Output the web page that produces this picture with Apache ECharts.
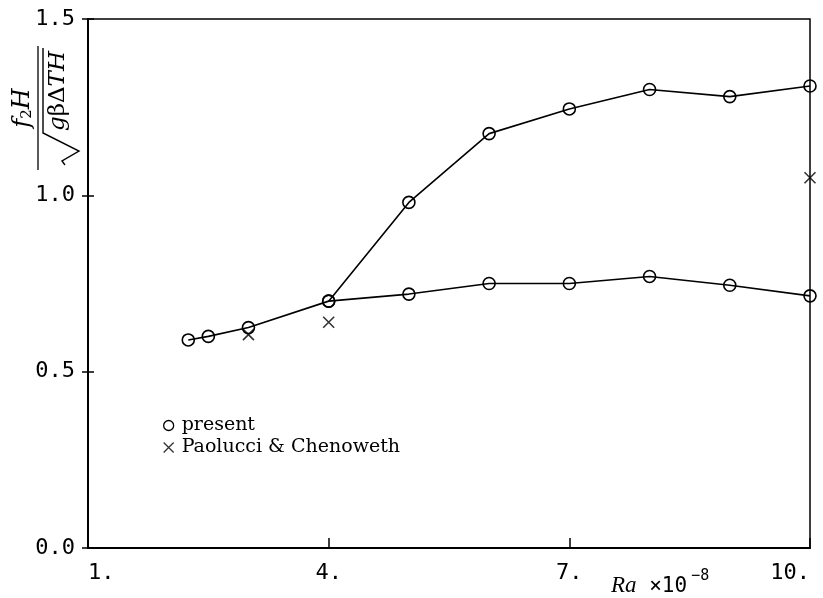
<!DOCTYPE html>
<html>
<head>
<meta charset="utf-8">
<script src="https://cdn.jsdelivr.net/npm/echarts@6/dist/echarts.min.js"></script>
<style>
  html, body { margin: 0; padding: 0; background: #fff; }
  #chart { width: 823px; height: 598px; }
</style>
</head>
<body>
<div id="chart"></div>
<script>
// Rayleigh number (x 10^-8) and dimensionless frequency f2*H/sqrt(g*beta*dT*H)
const presentLowerRa = [2.25, 2.5, 3, 4, 5, 6, 7, 8, 9, 10];
const presentLowerF  = [0.59, 0.60, 0.625, 0.70, 0.72, 0.75, 0.75, 0.77, 0.745, 0.715];
const presentUpperRa = [4, 5, 6, 7, 8, 9, 10];
const presentUpperF  = [0.70, 0.98, 1.175, 1.245, 1.30, 1.28, 1.31];
const paolucciRa = [3, 4, 10];
const paolucciF  = [0.605, 0.64, 1.05];
const xTicks = [1, 4, 7, 10];
const yTicks = [0.0, 0.5, 1.0, 1.5];

const pairs = (xs, ys) => xs.map((x, i) => [x, ys[i]]);
const crossPath = 'path://M0,0L10,10M10,0L0,10';
const tickFont = 'DejaVu Sans Mono';
const serif = 'DejaVu Serif';
const timesLike = 'Liberation Serif';

const chart = echarts.init(document.getElementById('chart'), null, { renderer: 'canvas' });

const xBase = { type: 'value', min: xTicks[0], max: xTicks[xTicks.length - 1], interval: 3 };
const yBase = { type: 'value', min: yTicks[0], max: yTicks[yTicks.length - 1], interval: 0.5 };

const circleStyle = { color: 'rgba(0,0,0,0)', borderColor: '#000', borderWidth: 1.6 };

chart.setOption({
  animation: false,
  backgroundColor: '#fff',
  grid: {
    left: 88, right: 13, top: 19, bottom: 50,
    show: true, borderColor: '#000', borderWidth: 1.5, backgroundColor: 'transparent'
  },
  xAxis: [
    Object.assign({}, xBase, {
      axisLine: { show: true, onZero: false, lineStyle: { color: '#000', width: 2 } },
      axisTick: { show: true, inside: true, length: 10, lineStyle: { color: '#000', width: 1.5 } },
      axisLabel: {
        margin: 14, color: '#000', fontFamily: tickFont, fontSize: 22,
        formatter: v => v + '.', alignMinLabel: 'left', alignMaxLabel: 'right'
      },
      splitLine: { show: false }
    }),
    Object.assign({}, xBase, {
      axisLine: { show: false },
      axisTick: { show: true, inside: false, length: 5, lineStyle: { color: '#000', width: 1.5 } },
      axisLabel: { show: false },
      splitLine: { show: false }
    })
  ],
  yAxis: [
    Object.assign({}, yBase, {
      axisLine: { show: true, onZero: false, lineStyle: { color: '#000', width: 2 } },
      axisTick: { show: true, inside: true, length: 6, lineStyle: { color: '#000', width: 1.5 } },
      axisLabel: {
        margin: 13, color: '#000', fontFamily: tickFont, fontSize: 22,
        formatter: v => v.toFixed(1)
      },
      splitLine: { show: false }
    }),
    Object.assign({}, yBase, {
      position: 'left',
      axisLine: { show: false },
      axisTick: { show: true, inside: false, length: 6, lineStyle: { color: '#000', width: 1.5 } },
      axisLabel: { show: false },
      splitLine: { show: false }
    })
  ],
  legend: {
    orient: 'vertical', left: 158, top: 411, itemGap: 3,
    itemWidth: 10, itemHeight: 10, selectedMode: false,
    textStyle: { fontFamily: serif, fontSize: 19, color: '#000', padding: [0, 0, 0, 3] },
    data: [
      { name: 'present', icon: 'circle', itemStyle: { color: 'rgba(0,0,0,0)', borderColor: '#000', borderWidth: 1.3 } },
      { name: 'Paolucci & Chenoweth', icon: crossPath, itemStyle: { color: 'rgba(0,0,0,0)', borderColor: '#000', borderWidth: 1.3 } }
    ]
  },
  series: [
    {
      name: 'present', type: 'line', data: pairs(presentLowerRa, presentLowerF),
      symbol: 'circle', symbolSize: 12,
      lineStyle: { color: '#000', width: 1.6 }, itemStyle: circleStyle
    },
    {
      name: 'present', type: 'line', data: pairs(presentUpperRa, presentUpperF),
      symbol: 'circle', symbolSize: 12,
      lineStyle: { color: '#000', width: 1.6 }, itemStyle: circleStyle
    },
    {
      name: 'Paolucci & Chenoweth', type: 'scatter', data: pairs(paolucciRa, paolucciF),
      symbol: crossPath, symbolSize: 11,
      itemStyle: { color: 'rgba(0,0,0,0)', borderColor: '#000', borderWidth: 1.6 }
    }
  ],
  graphic: [
    {
      // rotated axis title: f2H over sqrt(g beta dT H)
      type: 'group', x: 38, y: 108, rotation: Math.PI / 2,
      children: [
        { type: 'line', shape: { x1: -62, y1: 0, x2: 62, y2: 0 }, style: { stroke: '#000', lineWidth: 1.3 } },
        {
          type: 'text', x: 0, y: -3,
          style: {
            text: '{i|f}{s|2}{i|H}', align: 'center', verticalAlign: 'bottom',
            rich: {
              i: { fontFamily: serif, fontStyle: 'italic', fontSize: 24, lineHeight: 28, fill: '#000', verticalAlign: 'bottom' },
              s: { fontFamily: serif, fontSize: 15, lineHeight: 22, fill: '#000', verticalAlign: 'bottom' }
            }
          }
        },
        // radical sign and its vinculum
        {
          type: 'polyline',
          shape: { points: [[60, 5], [-25, 5], [-43, 41], [-53, 24], [-57, 27]] },
          style: { stroke: '#000', lineWidth: 1.4, fill: null }
        },
        {
          type: 'text', x: 17, y: 9,
          style: {
            text: '{i|g}{n|βΔ}{i|TH}', align: 'center', verticalAlign: 'top',
            rich: {
              i: { fontFamily: serif, fontStyle: 'italic', fontSize: 23, fill: '#000' },
              n: { fontFamily: serif, fontSize: 23, fill: '#000' }
            }
          }
        }
      ]
    },
    {
      type: 'text', x: 611, y: 583,
      style: {
        text: '{r|Ra}{m| ×10}{p|−8}', verticalAlign: 'middle',
        rich: {
          r: { fontFamily: timesLike, fontStyle: 'italic', fontSize: 23, fill: '#000', verticalAlign: 'bottom', lineHeight: 28 },
          m: { fontFamily: tickFont, fontSize: 21, fill: '#000', verticalAlign: 'bottom', lineHeight: 28 },
          p: { fontFamily: tickFont, fontSize: 15, fill: '#000', verticalAlign: 'top', lineHeight: 28, padding: [0, 0, 0, 4] }
        }
      }
    }
  ]
});
</script>
</body>
</html>
